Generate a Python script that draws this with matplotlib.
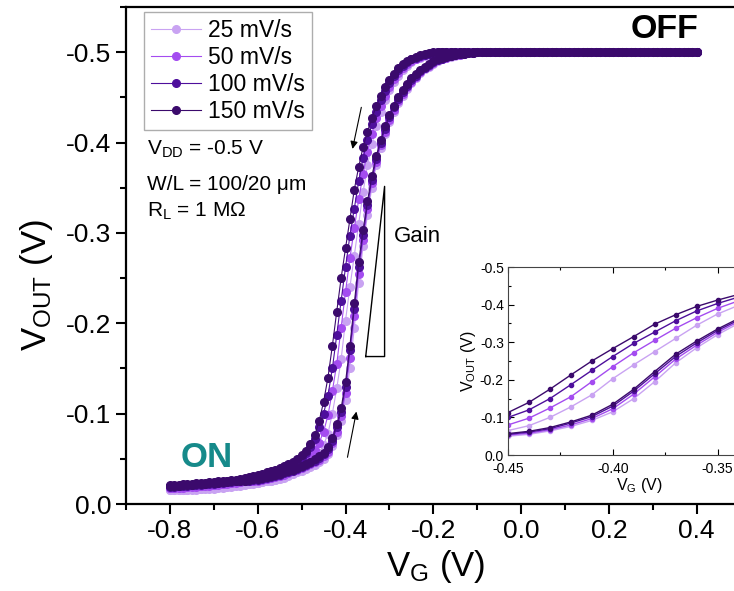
import numpy as np
import matplotlib
matplotlib.use('Agg')
import matplotlib.pyplot as plt
from matplotlib.ticker import MultipleLocator, FormatStrFormatter

plt.rcParams['font.family'] = ['Liberation Sans', 'DejaVu Sans']
plt.rcParams['mathtext.fontset'] = 'custom'
plt.rcParams['mathtext.rm'] = 'Liberation Sans'
plt.rcParams['mathtext.it'] = 'Liberation Sans:italic'
plt.rcParams['axes.unicode_minus'] = False

# gate sweep, -0.8 V to 0.4 V in 10 mV steps
vg = np.round(np.arange(-0.80, 0.405, 0.01), 2)

rates = ['25 mV/s', '50 mV/s', '100 mV/s', '150 mV/s']
colors = ['#c9a3f2', '#a44cf0', '#4e0f9c', '#3b0a6c']

# forward sweep (VG increasing), one row per 0.1 V
fwd_25 = [
    -0.015, -0.015, -0.016, -0.016, -0.016, -0.017, -0.017, -0.017, -0.018, -0.018,
    -0.018, -0.019, -0.019, -0.020, -0.020, -0.021, -0.021, -0.022, -0.022, -0.023,
    -0.023, -0.024, -0.025, -0.026, -0.027, -0.028, -0.029, -0.031, -0.033, -0.035,
    -0.037, -0.039, -0.041, -0.043, -0.046, -0.050, -0.055, -0.064, -0.076, -0.092,
    -0.115, -0.150, -0.195, -0.245, -0.285, -0.320, -0.350, -0.375, -0.394, -0.410,
    -0.423, -0.434, -0.444, -0.452, -0.459, -0.466, -0.472, -0.477, -0.481, -0.484,
    -0.487, -0.490, -0.492, -0.494, -0.495, -0.496, -0.497, -0.498, -0.499, -0.499,
    -0.500, -0.500, -0.500, -0.500, -0.500, -0.500, -0.500, -0.500, -0.500, -0.500,
    -0.500, -0.500, -0.500, -0.500, -0.500, -0.500, -0.500, -0.500, -0.500, -0.500,
    -0.500, -0.500, -0.500, -0.500, -0.500, -0.500, -0.500, -0.500, -0.500, -0.500,
    -0.500, -0.500, -0.500, -0.500, -0.500, -0.500, -0.500, -0.500, -0.500, -0.500,
    -0.500, -0.500, -0.500, -0.500, -0.500, -0.500, -0.500, -0.500, -0.500, -0.500,
    -0.500]
fwd_50 = [
    -0.018, -0.018, -0.019, -0.019, -0.019, -0.020, -0.020, -0.020, -0.021, -0.021,
    -0.021, -0.022, -0.022, -0.023, -0.023, -0.024, -0.024, -0.025, -0.025, -0.026,
    -0.026, -0.027, -0.028, -0.029, -0.030, -0.031, -0.032, -0.034, -0.036, -0.038,
    -0.040, -0.042, -0.044, -0.046, -0.049, -0.053, -0.058, -0.067, -0.080, -0.097,
    -0.123, -0.162, -0.208, -0.255, -0.292, -0.326, -0.355, -0.378, -0.397, -0.412,
    -0.425, -0.436, -0.446, -0.454, -0.461, -0.467, -0.473, -0.478, -0.482, -0.485,
    -0.488, -0.491, -0.493, -0.494, -0.496, -0.497, -0.497, -0.498, -0.499, -0.499,
    -0.500, -0.500, -0.500, -0.500, -0.500, -0.500, -0.500, -0.500, -0.500, -0.500,
    -0.500, -0.500, -0.500, -0.500, -0.500, -0.500, -0.500, -0.500, -0.500, -0.500,
    -0.500, -0.500, -0.500, -0.500, -0.500, -0.500, -0.500, -0.500, -0.500, -0.500,
    -0.500, -0.500, -0.500, -0.500, -0.500, -0.500, -0.500, -0.500, -0.500, -0.500,
    -0.500, -0.500, -0.500, -0.500, -0.500, -0.500, -0.500, -0.500, -0.500, -0.500,
    -0.500]
fwd_100 = [
    -0.019, -0.019, -0.020, -0.020, -0.020, -0.021, -0.021, -0.021, -0.022, -0.022,
    -0.022, -0.023, -0.023, -0.024, -0.024, -0.025, -0.025, -0.026, -0.026, -0.027,
    -0.027, -0.028, -0.029, -0.030, -0.031, -0.032, -0.034, -0.035, -0.037, -0.039,
    -0.041, -0.043, -0.045, -0.048, -0.051, -0.055, -0.061, -0.070, -0.085, -0.102,
    -0.130, -0.170, -0.216, -0.262, -0.298, -0.331, -0.359, -0.382, -0.400, -0.415,
    -0.428, -0.439, -0.448, -0.456, -0.463, -0.469, -0.474, -0.479, -0.483, -0.486,
    -0.489, -0.491, -0.493, -0.495, -0.496, -0.497, -0.498, -0.498, -0.499, -0.499,
    -0.500, -0.500, -0.500, -0.500, -0.500, -0.500, -0.500, -0.500, -0.500, -0.500,
    -0.500, -0.500, -0.500, -0.500, -0.500, -0.500, -0.500, -0.500, -0.500, -0.500,
    -0.500, -0.500, -0.500, -0.500, -0.500, -0.500, -0.500, -0.500, -0.500, -0.500,
    -0.500, -0.500, -0.500, -0.500, -0.500, -0.500, -0.500, -0.500, -0.500, -0.500,
    -0.500, -0.500, -0.500, -0.500, -0.500, -0.500, -0.500, -0.500, -0.500, -0.500,
    -0.500]
fwd_150 = [
    -0.020, -0.020, -0.020, -0.021, -0.021, -0.021, -0.022, -0.022, -0.022, -0.023,
    -0.023, -0.023, -0.024, -0.024, -0.025, -0.025, -0.026, -0.026, -0.027, -0.028,
    -0.028, -0.029, -0.030, -0.031, -0.032, -0.033, -0.035, -0.036, -0.038, -0.040,
    -0.042, -0.044, -0.047, -0.050, -0.053, -0.057, -0.063, -0.073, -0.088, -0.106,
    -0.135, -0.175, -0.222, -0.268, -0.303, -0.335, -0.363, -0.385, -0.403, -0.418,
    -0.430, -0.441, -0.450, -0.458, -0.465, -0.471, -0.476, -0.480, -0.484, -0.487,
    -0.490, -0.492, -0.494, -0.495, -0.496, -0.497, -0.498, -0.498, -0.499, -0.499,
    -0.500, -0.500, -0.500, -0.500, -0.500, -0.500, -0.500, -0.500, -0.500, -0.500,
    -0.500, -0.500, -0.500, -0.500, -0.500, -0.500, -0.500, -0.500, -0.500, -0.500,
    -0.500, -0.500, -0.500, -0.500, -0.500, -0.500, -0.500, -0.500, -0.500, -0.500,
    -0.500, -0.500, -0.500, -0.500, -0.500, -0.500, -0.500, -0.500, -0.500, -0.500,
    -0.500, -0.500, -0.500, -0.500, -0.500, -0.500, -0.500, -0.500, -0.500, -0.500,
    -0.500]

# reverse sweep (VG decreasing), stored on the same ascending VG grid
rev_25 = [
    -0.015, -0.015, -0.015, -0.015, -0.016, -0.016, -0.016, -0.017, -0.017, -0.017,
    -0.017, -0.018, -0.018, -0.019, -0.019, -0.020, -0.020, -0.021, -0.022, -0.022,
    -0.023, -0.024, -0.025, -0.026, -0.027, -0.029, -0.030, -0.032, -0.034, -0.036,
    -0.039, -0.042, -0.046, -0.051, -0.057, -0.065, -0.078, -0.100, -0.128, -0.160,
    -0.203, -0.240, -0.275, -0.310, -0.345, -0.375, -0.398, -0.418, -0.434, -0.447,
    -0.458, -0.467, -0.474, -0.480, -0.485, -0.489, -0.492, -0.494, -0.496, -0.497,
    -0.498, -0.499, -0.500, -0.500, -0.500, -0.500, -0.500, -0.500, -0.500, -0.500,
    -0.500, -0.500, -0.500, -0.500, -0.500, -0.500, -0.500, -0.500, -0.500, -0.500,
    -0.500, -0.500, -0.500, -0.500, -0.500, -0.500, -0.500, -0.500, -0.500, -0.500,
    -0.500, -0.500, -0.500, -0.500, -0.500, -0.500, -0.500, -0.500, -0.500, -0.500,
    -0.500, -0.500, -0.500, -0.500, -0.500, -0.500, -0.500, -0.500, -0.500, -0.500,
    -0.500, -0.500, -0.500, -0.500, -0.500, -0.500, -0.500, -0.500, -0.500, -0.500,
    -0.500]
rev_50 = [
    -0.018, -0.018, -0.018, -0.018, -0.019, -0.019, -0.019, -0.020, -0.020, -0.020,
    -0.021, -0.021, -0.022, -0.022, -0.023, -0.023, -0.024, -0.025, -0.025, -0.026,
    -0.027, -0.028, -0.029, -0.030, -0.032, -0.033, -0.035, -0.037, -0.039, -0.042,
    -0.045, -0.049, -0.054, -0.060, -0.068, -0.080, -0.098, -0.125, -0.155, -0.195,
    -0.235, -0.272, -0.305, -0.337, -0.365, -0.390, -0.410, -0.427, -0.441, -0.452,
    -0.462, -0.470, -0.477, -0.483, -0.487, -0.490, -0.493, -0.495, -0.497, -0.498,
    -0.499, -0.500, -0.500, -0.500, -0.500, -0.500, -0.500, -0.500, -0.500, -0.500,
    -0.500, -0.500, -0.500, -0.500, -0.500, -0.500, -0.500, -0.500, -0.500, -0.500,
    -0.500, -0.500, -0.500, -0.500, -0.500, -0.500, -0.500, -0.500, -0.500, -0.500,
    -0.500, -0.500, -0.500, -0.500, -0.500, -0.500, -0.500, -0.500, -0.500, -0.500,
    -0.500, -0.500, -0.500, -0.500, -0.500, -0.500, -0.500, -0.500, -0.500, -0.500,
    -0.500, -0.500, -0.500, -0.500, -0.500, -0.500, -0.500, -0.500, -0.500, -0.500,
    -0.500]
rev_100 = [
    -0.020, -0.020, -0.020, -0.021, -0.021, -0.021, -0.022, -0.022, -0.022, -0.023,
    -0.023, -0.024, -0.024, -0.025, -0.025, -0.026, -0.027, -0.028, -0.028, -0.029,
    -0.030, -0.031, -0.033, -0.034, -0.035, -0.037, -0.039, -0.041, -0.044, -0.047,
    -0.051, -0.056, -0.063, -0.072, -0.085, -0.100, -0.120, -0.150, -0.187, -0.225,
    -0.262, -0.297, -0.327, -0.357, -0.383, -0.403, -0.420, -0.434, -0.447, -0.457,
    -0.466, -0.474, -0.480, -0.485, -0.489, -0.492, -0.494, -0.496, -0.497, -0.498,
    -0.499, -0.500, -0.500, -0.500, -0.500, -0.500, -0.500, -0.500, -0.500, -0.500,
    -0.500, -0.500, -0.500, -0.500, -0.500, -0.500, -0.500, -0.500, -0.500, -0.500,
    -0.500, -0.500, -0.500, -0.500, -0.500, -0.500, -0.500, -0.500, -0.500, -0.500,
    -0.500, -0.500, -0.500, -0.500, -0.500, -0.500, -0.500, -0.500, -0.500, -0.500,
    -0.500, -0.500, -0.500, -0.500, -0.500, -0.500, -0.500, -0.500, -0.500, -0.500,
    -0.500, -0.500, -0.500, -0.500, -0.500, -0.500, -0.500, -0.500, -0.500, -0.500,
    -0.500]
rev_150 = [
    -0.021, -0.021, -0.021, -0.022, -0.022, -0.022, -0.023, -0.023, -0.023, -0.024,
    -0.024, -0.025, -0.025, -0.026, -0.027, -0.027, -0.028, -0.029, -0.030, -0.031,
    -0.032, -0.033, -0.035, -0.036, -0.038, -0.040, -0.042, -0.044, -0.047, -0.050,
    -0.054, -0.059, -0.066, -0.076, -0.092, -0.113, -0.140, -0.175, -0.213, -0.250,
    -0.283, -0.315, -0.348, -0.373, -0.395, -0.412, -0.427, -0.440, -0.452, -0.461,
    -0.469, -0.476, -0.482, -0.487, -0.490, -0.493, -0.495, -0.497, -0.498, -0.499,
    -0.500, -0.500, -0.500, -0.500, -0.500, -0.500, -0.500, -0.500, -0.500, -0.500,
    -0.500, -0.500, -0.500, -0.500, -0.500, -0.500, -0.500, -0.500, -0.500, -0.500,
    -0.500, -0.500, -0.500, -0.500, -0.500, -0.500, -0.500, -0.500, -0.500, -0.500,
    -0.500, -0.500, -0.500, -0.500, -0.500, -0.500, -0.500, -0.500, -0.500, -0.500,
    -0.500, -0.500, -0.500, -0.500, -0.500, -0.500, -0.500, -0.500, -0.500, -0.500,
    -0.500, -0.500, -0.500, -0.500, -0.500, -0.500, -0.500, -0.500, -0.500, -0.500,
    -0.500]

fwd_all = [fwd_25, fwd_50, fwd_100, fwd_150]
rev_all = [rev_25, rev_50, rev_100, rev_150]

fig = plt.figure(figsize=(7.34, 5.91), dpi=100)
ax = fig.add_axes([0.1717, 0.1472, 0.8373, 0.8409])

for fwd, rev, c, lab in zip(fwd_all, rev_all, colors, rates):
    ax.plot(vg, fwd, '-o', color=c, ms=5.5, lw=0.8, label=lab)
    ax.plot(vg, rev, '-o', color=c, ms=5.5, lw=0.8)

ax.set_xlim(-0.9, 0.5)
ax.set_ylim(0, -0.55)
ax.xaxis.set_major_locator(MultipleLocator(0.2))
ax.xaxis.set_minor_locator(MultipleLocator(0.1))
ax.yaxis.set_major_locator(MultipleLocator(0.1))
ax.yaxis.set_minor_locator(MultipleLocator(0.05))
ax.xaxis.set_major_formatter(FormatStrFormatter('%.1f'))
ax.yaxis.set_major_formatter(FormatStrFormatter('%.1f'))
ax.tick_params(which='major', direction='out', length=7, width=1.5, labelsize=19)
ax.tick_params(which='minor', direction='out', length=4, width=1.5)
for s in ax.spines.values():
    s.set_linewidth(1.6)

ax.set_xlabel('V$_\\mathregular{G}$ (V)', fontsize=25)
ax.set_ylabel('V$_\\mathregular{OUT}$ (V)', fontsize=25)
ax.xaxis.set_label_coords(0.503, -0.088)
ax.yaxis.set_label_coords(-0.115, 0.44)

ax.legend(loc='upper left', bbox_to_anchor=(0.0293, 0.99), fontsize=16.5,
          frameon=True, fancybox=False, edgecolor='#999999',
          handlelength=2.2, handletextpad=0.3, labelspacing=0.18,
          borderpad=0.3, borderaxespad=0)

ax.text(0.034, 0.702, 'V$_\\mathregular{DD}$ = -0.5 V', transform=ax.transAxes,
        fontsize=15, va='baseline')
ax.text(0.034, 0.632, 'W/L = 100/20 μm', transform=ax.transAxes,
        fontsize=15, va='baseline')
ax.text(0.034, 0.5775, 'R$_\\mathregular{L}$ = 1 MΩ', transform=ax.transAxes,
        fontsize=15, va='baseline')

ax.text(-0.775, -0.041, 'ON', fontsize=25, fontweight='bold', color='#168a8a',
        va='baseline')
ax.text(0.25, -0.516, 'OFF', fontsize=24.5, fontweight='bold', color='black',
        va='baseline')

# gain triangle and sweep arrows
ax.plot([-0.354, -0.311, -0.311, -0.354], [-0.1632, -0.3515, -0.1632, -0.1632],
        color='black', lw=1)
ax.text(-0.2897, -0.290, 'Gain', fontsize=16, va='baseline')
ax.annotate('', xy=(-0.3854, -0.390), xytext=(-0.3627, -0.442),
            arrowprops=dict(arrowstyle='-|>', color='black', lw=0.8,
                            mutation_scale=11))
ax.annotate('', xy=(-0.374, -0.1053), xytext=(-0.3968, -0.0487),
            arrowprops=dict(arrowstyle='-|>', color='black', lw=0.8,
                            mutation_scale=11))

# inset: zoom on the switching region
axin = fig.add_axes([0.6921, 0.2301, 0.3568, 0.3181])
for fwd, rev, c in zip(fwd_all, rev_all, colors):
    axin.plot(vg, fwd, '-o', color=c, ms=3, lw=1)
    axin.plot(vg, rev, '-o', color=c, ms=3, lw=1)
axin.set_xlim(-0.45, -0.325)
axin.set_ylim(0, -0.5)
axin.xaxis.set_major_locator(MultipleLocator(0.05))
axin.xaxis.set_minor_locator(MultipleLocator(0.025))
axin.yaxis.set_major_locator(MultipleLocator(0.1))
axin.yaxis.set_minor_locator(MultipleLocator(0.05))
axin.xaxis.set_major_formatter(FormatStrFormatter('%.2f'))
axin.yaxis.set_major_formatter(FormatStrFormatter('%.1f'))
axin.tick_params(which='both', direction='in', top=True, right=True, labelsize=10)
axin.tick_params(which='major', length=4, width=0.8)
axin.tick_params(which='minor', length=2, width=0.8)
axin.tick_params(axis='x', which='major', pad=5)
axin.tick_params(axis='y', which='major', pad=3)
for s in axin.spines.values():
    s.set_linewidth(0.8)
    s.set_color('#444444')
axin.set_xlabel('V$_\\mathregular{G}$ (V)', fontsize=11.5, labelpad=0)
axin.set_ylabel('V$_\\mathregular{OUT}$ (V)', fontsize=11.5, labelpad=1)

plt.savefig('out.png', dpi=100)
